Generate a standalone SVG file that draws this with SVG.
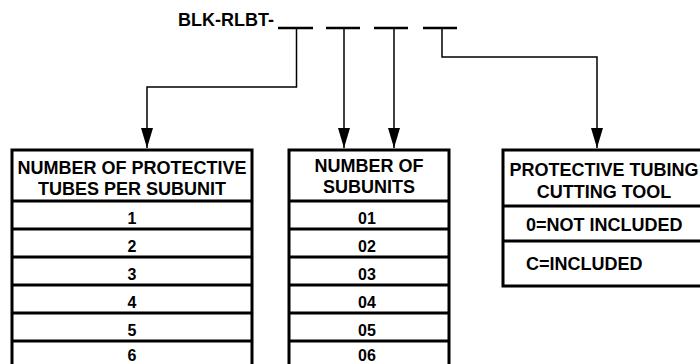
<svg xmlns="http://www.w3.org/2000/svg" width="700" height="364" viewBox="0 0 700 364">
<style>
text{font-family:"Liberation Sans",Arial,sans-serif;font-weight:bold;fill:#000}
.h{font-size:18px;text-anchor:middle}
.d{font-size:16px;text-anchor:middle}
.o{font-size:18px}
.box{fill:#fff;stroke:#000;stroke-width:3}
.row{stroke:#000;stroke-width:3}
.dash{stroke:#000;stroke-width:2.5}
.conn{fill:none;stroke:#000;stroke-width:1.5}
</style>
<defs>
<marker id="ah" viewBox="0 0 20 12" refX="20" refY="6" markerWidth="20" markerHeight="12" markerUnits="userSpaceOnUse" orient="auto">
<path d="M0,0 L20,6 L0,12 Z" fill="#000"/>
</marker>
</defs>
<rect width="700" height="364" fill="#fff"/>
<g id="code">
<text x="274" y="26" style="font-size:18px;text-anchor:end">BLK-RLBT-</text>
<line class="dash" x1="278" y1="28" x2="313" y2="28"/>
<line class="dash" x1="326" y1="28" x2="360" y2="28"/>
<line class="dash" x1="374" y1="28" x2="408" y2="28"/>
<line class="dash" x1="423" y1="28" x2="457" y2="28"/>
</g>
<g id="connectors">
<path class="conn" d="M296.5,29 V87 H147 V148" marker-end="url(#ah)"/>
<path class="conn" d="M344,29 V148" marker-end="url(#ah)"/>
<path class="conn" d="M394,29 V148" marker-end="url(#ah)"/>
<path class="conn" d="M442,29 V57 H597 V148" marker-end="url(#ah)"/>
</g>
<g id="tubes">
<rect class="box" x="12" y="150" width="240" height="230"/>
<line class="row" x1="12" y1="201" x2="252" y2="201"/>
<line class="row" x1="12" y1="229" x2="252" y2="229"/>
<line class="row" x1="12" y1="257" x2="252" y2="257"/>
<line class="row" x1="12" y1="285" x2="252" y2="285"/>
<line class="row" x1="12" y1="313" x2="252" y2="313"/>
<line class="row" x1="12" y1="341" x2="252" y2="341"/>
<text class="h" x="132" y="174">NUMBER OF PROTECTIVE</text>
<text class="h" x="132" y="195">TUBES PER SUBUNIT</text>
<text class="d" x="132" y="224">1</text>
<text class="d" x="132" y="252">2</text>
<text class="d" x="132" y="280">3</text>
<text class="d" x="132" y="308">4</text>
<text class="d" x="132" y="336">5</text>
<text class="d" x="132" y="361">6</text>
</g>
<g id="subunits">
<rect class="box" x="289" y="150" width="160" height="230"/>
<line class="row" x1="289" y1="201" x2="449" y2="201"/>
<line class="row" x1="289" y1="229" x2="449" y2="229"/>
<line class="row" x1="289" y1="257" x2="449" y2="257"/>
<line class="row" x1="289" y1="285" x2="449" y2="285"/>
<line class="row" x1="289" y1="313" x2="449" y2="313"/>
<line class="row" x1="289" y1="341" x2="449" y2="341"/>
<text class="h" x="369" y="172">NUMBER OF</text>
<text class="h" x="369" y="193">SUBUNITS</text>
<text class="d" x="367" y="224">01</text>
<text class="d" x="367" y="252">02</text>
<text class="d" x="367" y="280">03</text>
<text class="d" x="367" y="308">04</text>
<text class="d" x="367" y="336">05</text>
<text class="d" x="367" y="361">06</text>
</g>
<g id="tool">
<rect class="box" x="503" y="150" width="202" height="136"/>
<line class="row" x1="503" y1="206" x2="705" y2="206"/>
<line class="row" x1="503" y1="241" x2="705" y2="241"/>
<text class="h" x="604" y="176">PROTECTIVE TUBING</text>
<text class="h" x="604" y="198">CUTTING TOOL</text>
<text class="o" x="526" y="231">0=NOT INCLUDED</text>
<text class="o" x="526" y="270">C=INCLUDED</text>
</g>
</svg>
